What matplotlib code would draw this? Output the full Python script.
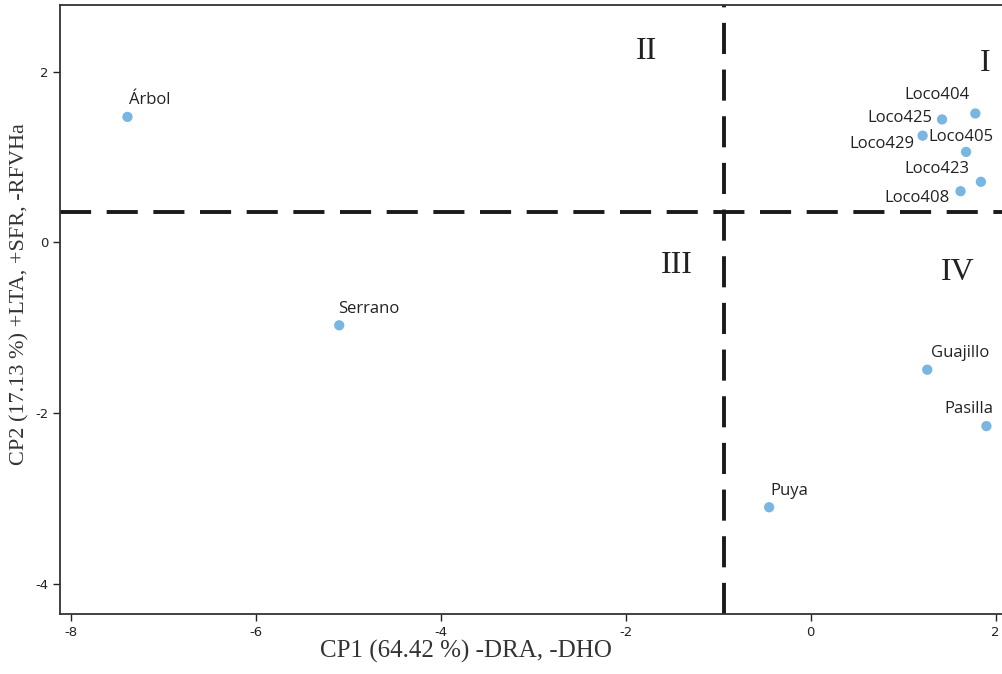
import matplotlib.pyplot as plt

plt.rcParams["axes.unicode_minus"] = False

# PCA scores
names = ["Árbol", "Serrano", "Puya", "Guajillo", "Pasilla",
         "Loco404", "Loco425", "Loco429", "Loco405", "Loco423", "Loco408"]
cp1 = [-7.39, -5.10, -0.45, 1.26, 1.90, 1.78, 1.42, 1.21, 1.68, 1.84, 1.62]
cp2 = [1.47, -0.97, -3.10, -1.49, -2.15, 1.51, 1.44, 1.25, 1.06, 0.71, 0.60]

# label offsets (points) and alignment
offsets = [(1, 12), (-1, 12), (1, 12), (3, 12), (5, 12),
           (-4, 13), (-7, 1), (-6, -6), (-27, 11), (-8, 9), (-8, -5)]
aligns = ["left", "left", "left", "left", "right",
          "right", "right", "right", "left", "right", "right"]

# quadrant dividers and labels
x_div = -0.94
y_div = 0.36
quad_names = ["I", "II", "III", "IV"]
quad_x = [1.89, -1.78, -1.45, 1.59]
quad_y = [2.10, 2.24, -0.27, -0.35]

fig = plt.figure(figsize=(10.03, 6.74), dpi=100)
ax = fig.add_axes([0.0598, 0.089, 0.9412, 0.9036])

ax.axvline(x_div, color="#1a1a1a", lw=2.8, dashes=(8, 4), zorder=1)
ax.axhline(y_div, color="#1a1a1a", lw=2.8, dashes=(8, 4), zorder=1)

ax.scatter(cp1, cp2, s=55, color="#7ab6e2", edgecolors="none", zorder=3)
for n, x, y, off, ha in zip(names, cp1, cp2, offsets, aligns):
    ax.annotate(n, (x, y), xytext=off, textcoords="offset points",
                ha=ha, va="center", fontsize=12, family="Open Sans", color="#222222")

for q, x, y in zip(quad_names, quad_x, quad_y):
    ax.text(x, y, q, fontsize=23, family="Liberation Serif", ha="center", va="center", color="#222222")

ax.set_xlim(-8.12, 2.09)
ax.set_ylim(-4.35, 2.78)
ax.set_xticks([-8, -6, -4, -2, 0, 2])
ax.set_yticks([-4, -2, 0, 2])
ax.tick_params(labelsize=9.5, length=5, width=1, colors="#222222")
for sp in ax.spines.values():
    sp.set_linewidth(1.3)
    sp.set_color("#333333")

ax.set_xlabel("CP1 (64.42 %) -DRA, -DHO", fontsize=18, family="Liberation Serif",
              color="#333333", va="center")
ax.xaxis.set_label_coords(0.430, -0.062)
ax.set_ylabel("CP2 (17.13 %) +LTA, +SFR, -RFVHa", fontsize=16, family="Liberation Serif",
              color="#333333", va="center")
ax.yaxis.set_label_coords(-0.042, 0.525)

fig.savefig("out.png", dpi=100)
